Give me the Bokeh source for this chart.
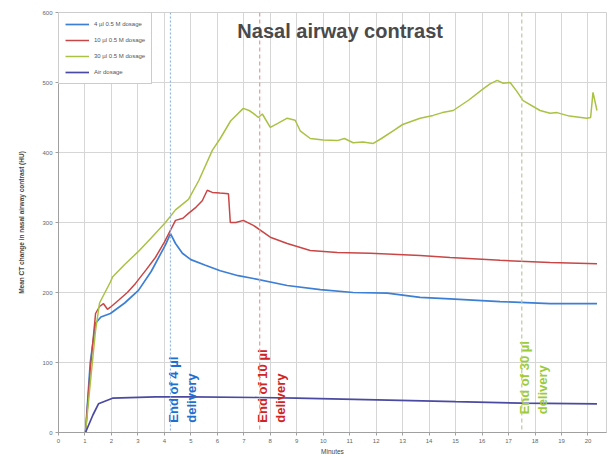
from bokeh.plotting import figure
from bokeh.models import Range1d, FixedTicker, Label, Span, Legend, LegendItem
from bokeh.core.properties import value
from bokeh.embed import file_html
from bokeh.resources import INLINE
import math

# ---- data (time in minutes, CT change) ----
t_green = [1.02, 1.2, 1.40, 1.55, 1.96, 2.04, 2.5, 3.0, 3.5, 4.04, 4.42, 4.91, 5.3, 5.81, 6.11, 6.5, 6.98,
           7.2, 7.36, 7.55, 7.7, 8.0, 8.3, 8.64, 8.94, 9.13, 9.51, 10.0, 10.53, 10.8, 11.13, 11.5, 11.89,
           12.2, 12.64, 13.0, 13.66, 14.15, 14.5, 14.91, 15.5, 16.04, 16.3, 16.57, 16.8, 17.06, 17.3,
           17.55, 18.19, 18.57, 18.83, 19.3, 19.96, 20.1, 20.19, 20.34]
v_green = [0, 70, 146, 185, 215, 222, 240, 258, 278, 300, 318, 333, 360, 403, 420, 445, 463,
           460, 456, 450, 455, 436, 442, 449, 446, 431, 420, 418, 417, 420, 414, 415, 413,
           420, 431, 440, 449, 453, 457, 460, 475, 491, 498, 503, 499, 500, 488,
           474, 460, 456, 457, 452, 449, 450, 486, 460]

t_red = [1.02, 1.2, 1.40, 1.55, 1.70, 1.85, 1.96, 2.3, 2.6, 2.91, 3.3, 3.66, 4.0, 4.42, 4.7, 4.91, 5.2,
         5.43, 5.62, 5.81, 6.1, 6.42, 6.49, 6.7, 6.98, 7.36, 8.0, 8.64, 9.51, 10.53, 11.77, 13.66,
         14.79, 16.68, 18.57, 20.34]
v_red = [0, 90, 170, 180, 184, 176, 179, 190, 200, 213, 232, 250, 272, 303, 306, 313, 322,
         331, 346, 343, 342, 341, 300, 300, 303, 296, 279, 270, 260, 257, 256, 253,
         250, 246, 243, 241]

t_blue = [1.02, 1.2, 1.40, 1.6, 1.96, 2.5, 3.02, 3.5, 4.04, 4.23, 4.42, 4.68, 5.0, 5.55, 6.11, 6.79,
          7.36, 8.64, 9.89, 11.13, 12.42, 13.66, 14.79, 16.68, 18.57, 20.34]
v_blue = [0, 100, 156, 165, 170, 185, 203, 230, 268, 284, 270, 256, 247, 239, 231, 224,
          220, 210, 204, 200, 199, 193, 191, 187, 184, 184]

t_purple = [1.02, 1.3, 1.51, 2.04, 3.66, 5.0, 7.55, 9.0, 12.9, 15.0, 17.5, 20.34]
v_purple = [0, 25, 41, 49, 51, 51, 50, 49, 46, 44, 42, 41]

series_names = ["4 \u00b5l 0.5 M dosage", "10 \u00b5l 0.5 M dosage", "30 \u00b5l 0.5 M dosage", "Air dosage"]
series_colors = ["#3d7fd4", "#c94646", "#a9c244", "#4b4aa2"]

end_times = [4.23, 7.6, 17.5]
end_labels = ["End of 4 \u00b5l", "End of 10 \u00b5l", "End of 30 \u00b5l"]
end_text_y = [14, 14, 26]
end_line_colors = ["#8fb4e6", "#e89a9a", "#b9c9a0"]
end_text_colors = ["#1f6fd0", "#d02424", "#9ccc3a"]

x_ticks = list(range(0, 21))
y_ticks = [0, 100, 200, 300, 400, 500, 600]

p = figure(frame_width=548, frame_height=420, output_backend="svg", toolbar_location=None,
           x_range=Range1d(0, 20.7), y_range=Range1d(0, 600),
           min_border_left=58, min_border_right=4, min_border_top=12, min_border_bottom=20)
p.outline_line_color = "#d0d0d0"
p.background_fill_color = "white"

p.xaxis.ticker = FixedTicker(ticks=x_ticks)
p.yaxis.ticker = FixedTicker(ticks=y_ticks)
for ax in (p.xaxis[0], p.yaxis[0]):
    ax.major_label_text_font_size = "6px"
    ax.major_label_text_color = "#666666"
    ax.major_label_standoff = 3
    ax.axis_line_color = "#a0a0a0"
    ax.major_tick_line_color = "#a0a0a0"
    ax.minor_tick_line_color = None
    ax.major_tick_out = 3
    ax.major_tick_in = 0
    ax.axis_label_text_font_size = "6.5px"
    ax.axis_label_text_font_style = "normal"
    ax.axis_label_text_color = "#444444"
p.xaxis.axis_label = "Minutes"
p.yaxis.axis_label = "Mean CT change in nasal airway contrast (HU)"
p.yaxis.axis_label_text_font_style = "bold"
p.yaxis.axis_label_standoff = 14
p.xaxis.axis_label_standoff = 2

p.xgrid.grid_line_color = "#d6d6d6"
p.ygrid.grid_line_color = "#d6d6d6"

renderers = []
for t, v, c, w in [(t_blue, v_blue, series_colors[0], 1.7), (t_red, v_red, series_colors[1], 1.5),
                   (t_green, v_green, series_colors[2], 1.5), (t_purple, v_purple, series_colors[3], 1.7)]:
    renderers.append(p.line(t, v, line_color=c, line_width=w))

dashes = ["2 2", "4 3", "4 3"]
for tx, lc, d in zip(end_times, end_line_colors, dashes):
    p.add_layout(Span(location=tx, dimension="height", line_color=lc, line_width=1.2, line_dash=d))

for tx, lab, ty, tc in zip(end_times, end_labels, end_text_y, end_text_colors):
    p.text(x=[tx], y=[ty], text=[lab], angle=math.pi / 2, x_offset=3,
           text_align="left", text_baseline="middle", text_color=tc,
           text_font=value("Liberation Sans"), text_font_size="13px", text_font_style="bold")
    p.text(x=[tx], y=[ty], text=["delivery"], angle=math.pi / 2, x_offset=21,
           text_align="left", text_baseline="middle", text_color=tc,
           text_font=value("Liberation Sans"), text_font_size="13px", text_font_style="bold")

p.add_layout(Label(x=10.64, y=574, text="Nasal airway contrast", text_align="center",
                   text_baseline="middle", text_font="Liberation Sans", text_font_style="bold",
                   text_font_size="20px", text_color="#4a4a4a"))

p.add_layout(Label(x=-0.78, y=553, text="Left Mass", angle=math.pi / 2, text_align="left",
                   text_baseline="middle", text_font="Liberation Sans", text_font_style="bold",
                   text_font_size="7px", text_color="#444444"))

legend = Legend(items=[LegendItem(label=n, renderers=[r]) for n, r in zip(series_names, renderers)],
                location="top_left", margin=0, padding=6, spacing=6,
                glyph_width=24, glyph_height=10, label_height=10,
                label_text_font_size="6px", label_text_color="#555555",
                border_line_color="#999999", background_fill_alpha=1.0)
p.add_layout(legend)

open("out.html", "w").write(file_html(p, INLINE))
